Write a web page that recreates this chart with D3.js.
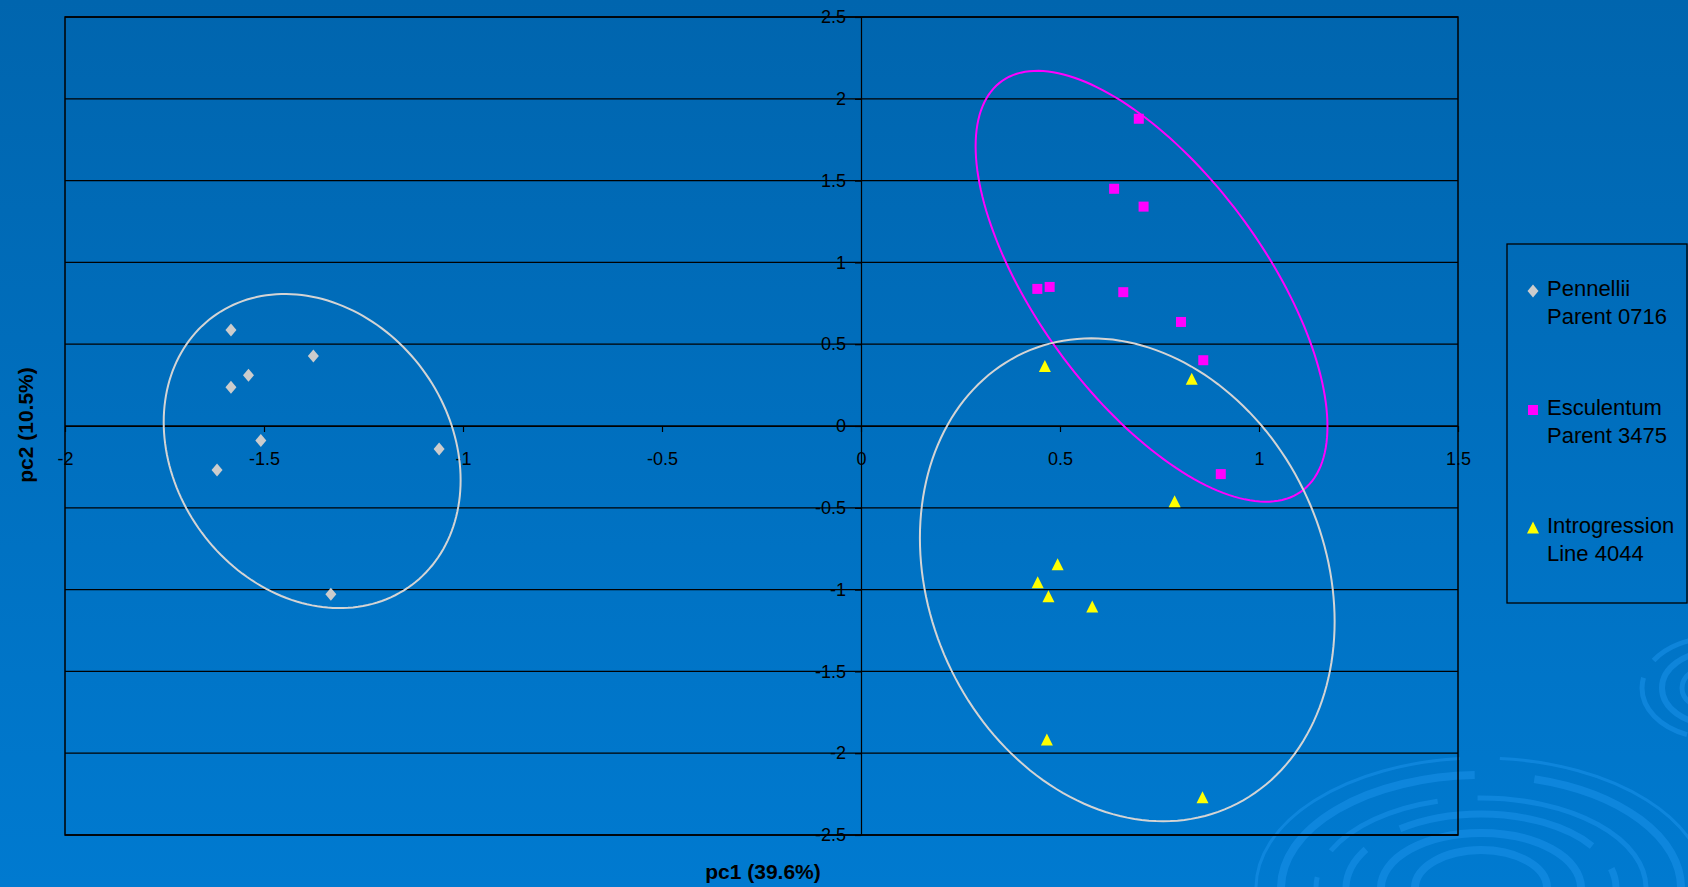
<!DOCTYPE html>
<html><head><meta charset="utf-8">
<script src="https://cdn.jsdelivr.net/npm/d3@7"></script>
<style>html,body{margin:0;padding:0;overflow:hidden;background:#0070c0}</style>
</head><body>
<script>
// ---- data ----
const seriesNames = ["Pennellii Parent 0716", "Esculentum Parent 3475", "Introgression Line 4044"];
const legendLines = [["Pennellii", "Parent 0716"], ["Esculentum", "Parent 3475"], ["Introgression", "Line 4044"]];
const pennelliiX = [-1.583, -1.376, -1.539, -1.583, -1.508, -1.060, -1.618, -1.332];
const pennelliiY = [0.587, 0.428, 0.310, 0.237, -0.088, -0.141, -0.269, -1.028];
const esculentumX = [0.698, 0.636, 0.710, 0.443, 0.474, 0.659, 0.804, 0.860, 0.904];
const esculentumY = [1.878, 1.450, 1.341, 0.838, 0.850, 0.818, 0.636, 0.402, -0.294];
const introgressionX = [0.462, 0.831, 0.788, 0.494, 0.444, 0.471, 0.581, 0.467, 0.858];
const introgressionY = [0.363, 0.285, -0.463, -0.848, -0.958, -1.044, -1.107, -1.920, -2.273];
const xTicks = [-2, -1.5, -1, -0.5, 0, 0.5, 1, 1.5];
const xTickLabels = ["-2", "-1.5", "-1", "-0.5", "0", "0.5", "1", "1.5"];
const yTicks = [-2.5, -2, -1.5, -1, -0.5, 0, 0.5, 1, 1.5, 2, 2.5];
const yTickLabels = ["-2.5", "-2", "-1.5", "-1", "-0.5", "0", "0.5", "1", "1.5", "2", "2.5"];
const xTitle = "pc1 (39.6%)";
const yTitle = "pc2 (10.5%)";
// group ellipses (data units): centre, half extents, tilt (correlation)
const ellipseCx = [-1.379, 0.730, 0.669];
const ellipseCy = [-0.153, 0.854, -0.940];
const ellipseHx = [0.373, 0.442, 0.521];
const ellipseHy = [0.960, 1.317, 1.476];
const ellipseTilt = [-0.185, -0.650, -0.173];
const ellipseColor = ["#d4d4d4", "#ff00ff", "#d4d4d4"];

// ---- layout ----
const W = 1688, H = 887;
const svg = d3.select("body").append("svg").attr("width", W).attr("height", H)
  .style("font-family", "'Liberation Sans', Arial, sans-serif");

const defs = svg.append("defs");
const grad = defs.append("linearGradient").attr("id", "bg").attr("x1", 0).attr("y1", 0).attr("x2", 0).attr("y2", 1);
grad.append("stop").attr("offset", "0%").attr("stop-color", "#0065ae");
grad.append("stop").attr("offset", "100%").attr("stop-color", "#007ad0");
svg.append("rect").attr("width", W).attr("height", H).attr("fill", "url(#bg)");

// decorative swirls
const deco = svg.append("g").attr("fill", "none").attr("stroke", "#1a92ea").attr("stroke-opacity", 0.55);
function ring(cx, cy, rx, ry, w, dash) {
  const e = deco.append("ellipse").attr("cx", cx).attr("cy", cy).attr("rx", rx).attr("ry", ry).attr("stroke-width", w);
  if (dash) e.attr("stroke-dasharray", dash);
}
ring(1481, 888, 225, 130, 3, "300 30 500 40");
ring(1481, 888, 200, 113, 8, "420 25 300 60");
ring(1481, 888, 165, 90, 5, "120 40 260 30");
ring(1481, 888, 135, 74, 7, "200 30 150 40");
ring(1481, 888, 100, 55, 8, null);
ring(1481, 888, 66, 38, 8, null);
ring(1712, 688, 70, 50, 5, "90 30 80 20");
ring(1712, 688, 50, 36, 6, null);
ring(1712, 688, 30, 22, 5, null);
ring(742, 905, 190, 55, 4, "200 40 120 500");
ring(742, 905, 140, 40, 5, "160 30 100 300");

const x = d3.scaleLinear().domain([-2, 1.5]).range([65, 1458]);
const y = d3.scaleLinear().domain([-2.5, 2.5]).range([835, 17]);

// gridlines
svg.append("g").selectAll("line").data(yTicks).join("line")
  .attr("x1", x(-2)).attr("x2", x(1.5))
  .attr("y1", d => y(d)).attr("y2", d => y(d))
  .attr("stroke", "#000").attr("stroke-width", 1.3);

// plot border
svg.append("rect").attr("x", x(-2)).attr("y", y(2.5))
  .attr("width", x(1.5) - x(-2)).attr("height", y(-2.5) - y(2.5))
  .attr("fill", "none").attr("stroke", "#000").attr("stroke-width", 1.5);

// axes crossing at 0
const yAxis = svg.append("g").attr("transform", `translate(${x(0)},0)`)
  .call(d3.axisLeft(y).tickValues(yTicks).tickFormat((d, i) => yTickLabels[i]).tickSize(6).tickSizeOuter(0).tickPadding(9));
const xAxis = svg.append("g").attr("transform", `translate(0,${y(0)})`)
  .call(d3.axisBottom(x).tickValues(xTicks).tickFormat((d, i) => xTickLabels[i]).tickSize(6).tickSizeOuter(0).tickPadding(20));
[yAxis, xAxis].forEach(g => {
  g.selectAll("path,line").attr("stroke", "#000").attr("stroke-width", 1.2);
  g.selectAll("text").attr("fill", "#000").style("font-size", "18px")
    .style("font-family", "'Liberation Sans', Arial, sans-serif");
});

// ellipses
const ell = d3.line().x(p => x(p[0])).y(p => y(p[1])).curve(d3.curveLinearClosed);
ellipseCx.forEach((cx, i) => {
  const pts = d3.range(0, 360, 2).map(a => {
    const t = a * Math.PI / 180, r = ellipseTilt[i];
    return [cx + ellipseHx[i] * Math.cos(t),
            ellipseCy[i] + ellipseHy[i] * (r * Math.cos(t) + Math.sqrt(1 - r * r) * Math.sin(t))];
  });
  svg.append("path").attr("d", ell(pts)).attr("fill", "none")
    .attr("stroke", ellipseColor[i]).attr("stroke-width", 2);
});

// marker shapes (pixel units)
const shapes = [
  "M0,-6.5L5.5,0L0,6.5L-5.5,0Z",
  "M-5,-5H5V5H-5Z",
  "M0,-6.5L6,5.5H-6Z"
];
const fills = ["#cccccc", "#ff00ff", "#ffff00"];
const series = [
  d3.zip(pennelliiX, pennelliiY),
  d3.zip(esculentumX, esculentumY),
  d3.zip(introgressionX, introgressionY)
];
series.forEach((pts, i) => {
  svg.append("g").selectAll("path").data(pts).join("path")
    .attr("d", shapes[i]).attr("fill", fills[i])
    .attr("transform", d => `translate(${x(d[0])},${y(d[1])})`);
});

// axis titles
svg.append("text").attr("x", 763).attr("y", 879).attr("text-anchor", "middle")
  .style("font-size", "21px").style("font-weight", "bold").attr("fill", "#000").text(xTitle);
svg.append("text").attr("transform", "translate(33,425) rotate(-90)").attr("text-anchor", "middle")
  .style("font-size", "21px").style("font-weight", "bold").attr("fill", "#000").text(yTitle);

// legend
const lg = svg.append("g");
lg.append("rect").attr("x", 1507).attr("y", 244).attr("width", 180).attr("height", 359)
  .attr("fill", "none").attr("stroke", "#000").attr("stroke-width", 1.3);
const legY = [296, 415, 533];
legendLines.forEach((lines, i) => {
  lg.append("path").attr("d", shapes[i]).attr("fill", fills[i])
    .attr("transform", `translate(1533,${legY[i] - 5})`);
  lines.forEach((t, j) => {
    lg.append("text").attr("x", 1547).attr("y", legY[i] + j * 27.5)
      .style("font-size", "22px").attr("fill", "#000").text(t);
  });
});
</script>
</body></html>
